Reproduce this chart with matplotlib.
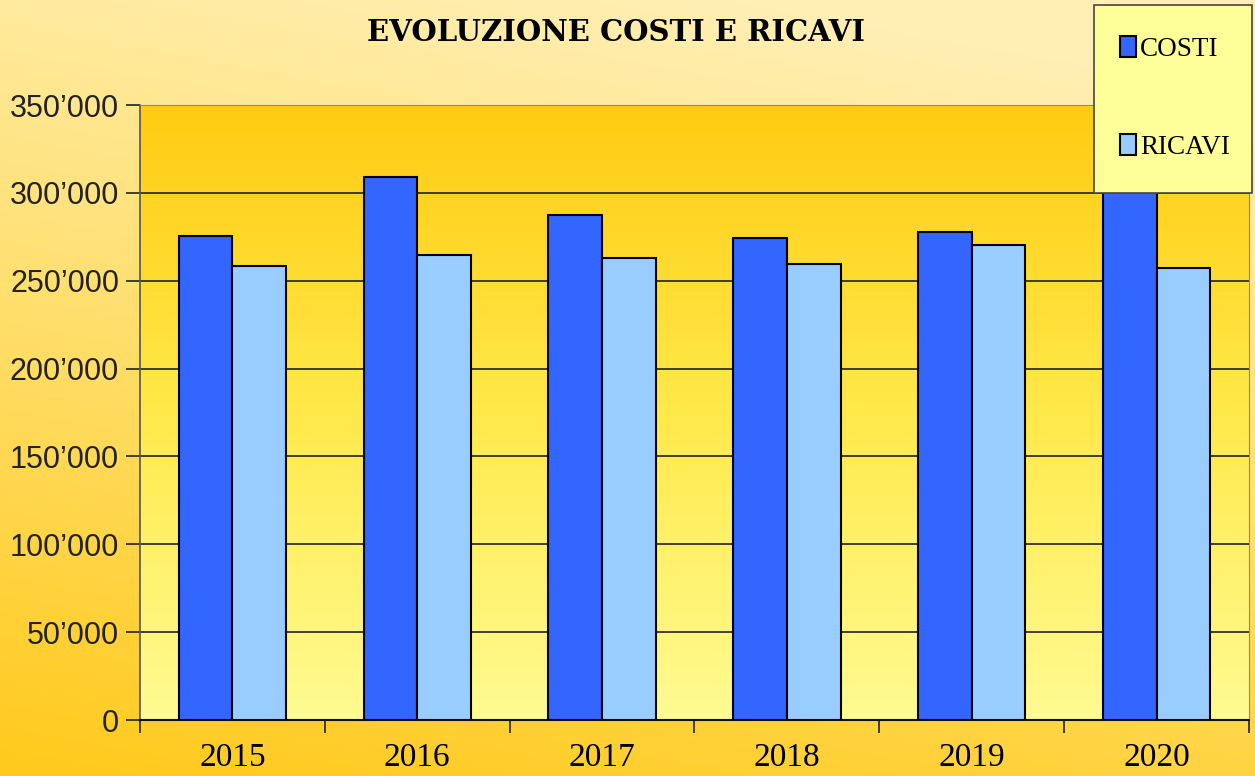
import numpy as np
import matplotlib.pyplot as plt
from matplotlib.colors import LinearSegmentedColormap
from matplotlib.patches import Rectangle
from matplotlib.ticker import FuncFormatter

anni = ['2015', '2016', '2017', '2018', '2019', '2020']
costi = [275500, 309000, 287400, 274300, 277700, 318000]
ricavi = [258400, 264600, 262900, 259500, 270300, 257200]

W, H = 1255, 776
fig = plt.figure(figsize=(W / 100, H / 100), dpi=100)

# sfondo figura a gradiente
bg = fig.add_axes([0, 0, 1, 1], zorder=-10)
bg_cmap = LinearSegmentedColormap.from_list('bg', ['#ffca1c', '#ffde6a', '#ffefb4'])
yy, xx = np.mgrid[0:1:200j, 0:1:200j]
grad = np.clip(yy * 0.85 + xx * 0.25, 0, 1)
bg.imshow(grad, cmap=bg_cmap, origin='lower', extent=[0, 1, 0, 1], aspect='auto')
bg.axis('off')

ax = fig.add_axes([140 / W, 56 / H, 1109 / W, 615 / H])
x = np.arange(len(anni))
w = 0.29

# gradiente area del grafico
pa_cmap = LinearSegmentedColormap.from_list('pa', ['#fffb92', '#ffe94a', '#ffcb12'])
g = np.linspace(0, 1, 256).reshape(-1, 1)
ax.imshow(g, cmap=pa_cmap, origin='lower', aspect='auto',
          extent=[-0.5, len(anni) - 0.5, 0, 350000], zorder=0)

ax.bar(x - w / 2, costi, w, color='#3366ff', edgecolor='black', linewidth=1.5,
       label='COSTI', zorder=3)
ax.bar(x + w / 2, ricavi, w, color='#99ccff', edgecolor='black', linewidth=1.5,
       label='RICAVI', zorder=3)

ax.set_xlim(-0.5, len(anni) - 0.5)
ax.set_ylim(0, 350000)
ax.set_yticks(np.arange(0, 350001, 50000))
ax.yaxis.set_major_formatter(FuncFormatter(
    lambda v, p: '0' if v == 0 else f'{int(v):,}'.replace(',', '\u2019')))
ax.grid(axis='y', color='#222222', linewidth=1.2, zorder=1)
ax.set_axisbelow(True)

ax.set_xticks(x)
ax.set_xticklabels(anni, family='Liberation Serif', fontsize=24)
ax.set_xticks(np.arange(-0.5, len(anni)), minor=True)
ax.tick_params(axis='x', which='major', length=0, pad=16)
ax.tick_params(axis='x', which='minor', length=9, width=1.2, color='#222222')
ax.tick_params(axis='y', length=10, width=1.2, color='#222222', pad=5)
for lab in ax.get_yticklabels():
    lab.set_family('Liberation Sans')
    lab.set_fontsize(22)
    lab.set_color('#222222')

ax.spines['bottom'].set_color('#111111')
ax.spines['bottom'].set_linewidth(1.5)
ax.spines['left'].set_color('#555555')
ax.spines['left'].set_linewidth(1.2)
ax.spines['top'].set_color('#888888')
ax.spines['right'].set_color('#888888')

fig.text(0.491, 0.958, 'EVOLUZIONE COSTI E RICAVI', ha='center', va='center',
         family='DejaVu Serif', fontweight='bold', fontsize=21)

# riquadro legenda
box = Rectangle((1094 / W, 1 - 193 / H), 158 / W, 188 / H, transform=fig.transFigure,
                facecolor='#ffff99', edgecolor='#444444', linewidth=1.2, zorder=9)
fig.add_artist(box)

leg = fig.legend(loc='center', bbox_to_anchor=(1175 / W, 1 - 98 / H),
                 prop={'family': 'Liberation Serif', 'size': 19.5},
                 frameon=False, handlelength=0.6, handleheight=0.8,
                 handletextpad=0.15, labelspacing=2.65, borderpad=0,
                 borderaxespad=0)
leg.set_zorder(10)

fig.savefig('out.png', dpi=100)
